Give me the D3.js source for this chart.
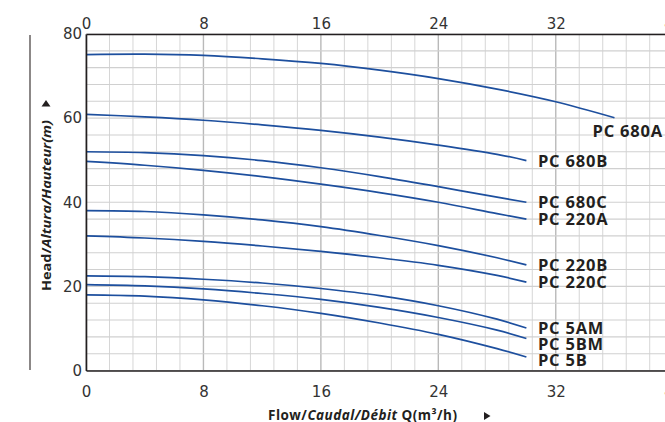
<!DOCTYPE html>
<html>
<head>
<meta charset="utf-8">
<script src="https://cdn.jsdelivr.net/npm/d3@7"></script>
<style>
  html, body { margin: 0; padding: 0; background: #fff; overflow: hidden; }
  svg { display: block; }
</style>
</head>
<body>
<svg id="chart" width="665" height="422"></svg>
<script>
// ---- data ----
const flowTicks = [0, 8, 16, 24, 32, 40];
const headTicks = [0, 20, 40, 60, 80];
const seriesNames = ["PC 680A", "PC 680B", "PC 680C", "PC 220A", "PC 220B", "PC 220C", "PC 5AM", "PC 5BM", "PC 5B"];
const flowPoints = [0, 4, 8, 12, 16, 20, 24, 28, 30];
const flowPoints680A = [0, 4, 8, 12, 16, 20, 24, 28, 32, 36];
const headPC680A = [75.1, 75.2, 74.9, 74.1, 73.0, 71.4, 69.4, 66.9, 63.9, 60.1];
const headPC680B = [60.9, 60.3, 59.5, 58.4, 57.1, 55.5, 53.6, 51.4, 49.9];
const headPC680C = [52.0, 51.8, 51.1, 49.9, 48.2, 46.1, 43.7, 41.2, 40.0];
const headPC220A = [49.7, 48.8, 47.6, 46.1, 44.3, 42.3, 40.0, 37.3, 36.0];
const headPC220B = [38.0, 37.8, 37.0, 35.8, 34.2, 32.1, 29.7, 26.8, 25.1];
const headPC220C = [32.0, 31.5, 30.7, 29.6, 28.3, 26.8, 25.0, 22.6, 21.0];
const headPC5AM  = [22.5, 22.3, 21.7, 20.8, 19.5, 17.8, 15.4, 12.2, 10.1];
const headPC5BM  = [20.4, 20.1, 19.4, 18.3, 16.9, 15.0, 12.6, 9.6, 7.6];
const headPC5B   = [18.0, 17.7, 16.8, 15.4, 13.6, 11.3, 8.6, 5.2, 3.2];

(function () {
const seriesHeads = [headPC680A, headPC680B, headPC680C, headPC220A, headPC220B, headPC220C, headPC5AM, headPC5BM, headPC5B];
const series = seriesNames.map((name, i) => {
  const xs = i === 0 ? flowPoints680A : flowPoints;
  return { name, points: xs.map((q, k) => ({ q, h: seriesHeads[i][k] })) };
});

// ---- layout ----
const W = 665;
const mLeft = 86, mTop = 34, mBottom = 370.5;
const pxPerUnit = 14.68;
const x = d3.scaleLinear().domain([0, 40]).range([mLeft, mLeft + 40 * pxPerUnit]);
const y = d3.scaleLinear().domain([0, 80]).range([mBottom, mTop]);

const svg = d3.select("#chart");
const tickFont = "'DejaVu Sans', sans-serif";
const labFont = "'Open Sans', sans-serif";
const ink = "#231f20";

// grid
const grid = svg.append("g");
const vLines = d3.range(0, 26).map(i => i * 1.6);
grid.selectAll("line.v").data(vLines).join("line").attr("class", "v")
  .attr("x1", d => x(d)).attr("x2", d => x(d))
  .attr("y1", mTop).attr("y2", mBottom)
  .attr("stroke", (d, i) => i % 5 === 0 ? "#b9b9b9" : "#d6d6d6")
  .attr("stroke-width", (d, i) => i % 5 === 0 ? 1.4 : 1);
const hLines = d3.range(0, 21).map(j => j * 4);
grid.selectAll("line.h").data(hLines).join("line").attr("class", "h")
  .attr("x1", mLeft).attr("x2", x(40))
  .attr("y1", d => y(d)).attr("y2", d => y(d))
  .attr("stroke", "#d0d0d0").attr("stroke-width", 1.1);

// curves
const line = d3.line().x(d => x(d.q)).y(d => y(d.h)).curve(d3.curveCatmullRom.alpha(0.5));
svg.append("g").selectAll("path").data(series).join("path")
  .attr("d", d => line(d.points))
  .attr("fill", "none").attr("stroke", "#1d4f9e").attr("stroke-width", 1.7);

// axes
function styleAxis(g) {
  g.selectAll(".domain").attr("stroke", ink).attr("stroke-width", 1.6);
  g.selectAll("text").attr("font-family", tickFont).attr("font-size", 15).attr("fill", "#333");
}
svg.append("g").attr("transform", `translate(0,${mBottom})`)
  .call(d3.axisBottom(x).tickValues(flowTicks).tickFormat(d3.format("d")).tickSize(0).tickPadding(15.5))
  .call(styleAxis);
svg.append("g").attr("transform", `translate(0,${mTop})`)
  .call(d3.axisTop(x).tickValues(flowTicks).tickFormat(d3.format("d")).tickSize(0).tickPadding(5))
  .call(styleAxis);
svg.append("g").attr("transform", `translate(${mLeft},0)`)
  .call(d3.axisLeft(y).tickValues(headTicks).tickFormat(d3.format("d")).tickSize(0).tickPadding(4))
  .call(styleAxis);

// outer gray rule on the left
svg.append("line").attr("x1", 30).attr("x2", 30).attr("y1", 35).attr("y2", 370)
  .attr("stroke", "#6f6a69").attr("stroke-width", 1.6);

// y axis title
const yt = svg.append("text")
  .attr("transform", "translate(51,291) rotate(-90)")
  .attr("textLength", 171).attr("lengthAdjust", "spacingAndGlyphs")
  .attr("font-family", labFont).attr("font-size", 13).attr("font-weight", "bold").attr("fill", ink);
yt.append("tspan").text("Head/");
yt.append("tspan").attr("font-style", "italic").text("Altura/Hauteur(m)");
svg.append("path").attr("d", "M41.5,106.5 L50.5,106.5 L46,100 Z").attr("fill", ink);

// x axis title
const xt = svg.append("text").attr("x", 268).attr("y", 419.5)
  .attr("textLength", 189).attr("lengthAdjust", "spacing")
  .attr("font-family", labFont).attr("font-size", 13.5).attr("font-weight", "bold").attr("fill", ink);
xt.append("tspan").text("Flow/");
xt.append("tspan").attr("font-style", "italic").text("Caudal/Débit");
xt.append("tspan").text(" Q(m³/h)");
svg.append("path").attr("d", "M484,412 L484,420 L490.5,416 Z").attr("fill", ink);

// series labels, placed from curve ends with simple collision avoidance
const ends = series.map(s => { const p = s.points[s.points.length - 1]; return { name: s.name, ex: x(p.q), ey: y(p.h) }; });
let prev = -Infinity;
ends.forEach(e => {
  if (e.ex + 11 + 72 > W) { e.anchor = "end"; e.lx = W - 2; e.ly = e.ey + 19.5; }
  else {
    e.anchor = "start"; e.lx = e.ex + 11.5;
    e.ly = Math.max(e.ey + 6, prev + 16);
    prev = e.ly;
  }
});
svg.append("g").selectAll("text").data(ends).join("text")
  .attr("x", d => d.lx).attr("y", d => d.ly).attr("text-anchor", d => d.anchor)
  .attr("font-family", labFont).attr("font-size", 16.5).attr("font-weight", "bold")
  .attr("letter-spacing", 0.8)
  .attr("fill", ink).text(d => d.name);
})();
</script>
</body>
</html>
